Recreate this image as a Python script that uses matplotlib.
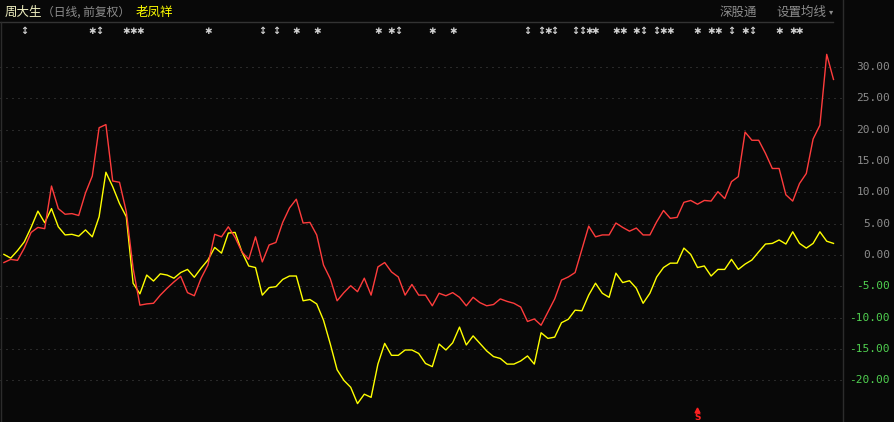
import matplotlib
matplotlib.use('Agg')
import matplotlib.pyplot as plt
from matplotlib.transforms import blended_transform_factory
from matplotlib.lines import Line2D

plt.rcParams['font.family'] = ['Noto Sans CJK SC', 'DejaVu Sans']

W, H = 895, 422
BG = '#080808'

# 区间涨幅 (%), 日线 前复权
zhoudasheng = [-1.2, -0.7, -0.85, 1.1, 3.6, 4.4, 4.2, 11.0, 7.4, 6.5,
               6.6, 6.3, 9.9, 12.6, 20.3, 20.8, 11.8, 11.6, 6.9, -2.1,
               -8.0, -7.8, -7.7, -6.4, -5.3, -4.3, -3.4, -6.0, -6.5, -3.7,
               -1.6, 3.3, 2.9, 4.5, 2.8, 0.5, -0.7, 2.9, -1.1, 1.6,
               2.0, 5.2, 7.5, 8.9, 5.1, 5.2, 3.2, -1.6, -3.8, -7.3,
               -6.0, -4.9, -5.85, -3.7, -6.4, -1.9, -1.2, -2.7, -3.5, -6.4,
               -4.7, -6.4, -6.4, -8.1, -6.1, -6.5, -6.0, -6.75, -8.1, -6.75,
               -7.6, -8.1, -7.9, -7.0, -7.4, -7.7, -8.3, -10.6, -10.2, -11.2,
               -9.1, -7.0, -4.0, -3.5, -2.8, 0.9, 4.6, 2.9, 3.2, 3.2,
               5.1, 4.4, 3.8, 4.3, 3.2, 3.2, 5.3, 7.1, 5.85, 6.0,
               8.4, 8.7, 8.1, 8.7, 8.6, 10.1, 9.0, 11.7, 12.5, 19.6,
               18.3, 18.3, 16.2, 13.8, 13.8, 9.6, 8.6, 11.4, 13.0, 18.5,
               20.7, 32.0, 28.0]
laofengxiang = [0.1, -0.5, 0.7, 2.1, 4.4, 7.0, 5.15, 7.4, 4.5, 3.2,
                3.3, 3.0, 4.0, 2.9, 6.1, 13.2, 10.9, 8.2, 6.1, -4.5,
                -6.2, -3.2, -4.15, -3.0, -3.2, -3.7, -2.8, -2.3, -3.55, -2.1,
                -0.8, 1.2, 0.3, 3.5, 3.6, 0.5, -1.75, -2.0, -6.4, -5.2,
                -5.05, -3.9, -3.35, -3.35, -7.3, -7.1, -7.8, -10.4, -14.2, -18.3,
                -20.0, -21.1, -23.7, -22.2, -22.7, -17.4, -14.1, -16.0, -16.0, -15.15,
                -15.15, -15.7, -17.3, -17.8, -14.2, -15.15, -14.0, -11.5, -14.35, -12.9,
                -14.1, -15.3, -16.2, -16.5, -17.4, -17.4, -16.9, -16.1, -17.4, -12.4,
                -13.3, -13.1, -10.8, -10.25, -8.8, -8.9, -6.4, -4.5, -6.1, -6.75,
                -2.9, -4.4, -4.1, -5.3, -7.7, -6.1, -3.5, -2.0, -1.3, -1.3,
                1.1, 0.1, -2.0, -1.75, -3.35, -2.3, -2.3, -0.7, -2.3, -1.45,
                -0.8, 0.5, 1.75, 1.85, 2.4, 1.75, 3.7, 1.85, 1.1, 1.85,
                3.7, 2.2, 1.85]
yticks = [30, 25, 20, 15, 10, 5, 0, -5, -10, -15, -20]
# 信息地雷标记所在的交易日序号
star_days = [13, 18, 19, 20, 30, 43, 46, 55, 57, 63, 66, 80, 86, 87, 90, 91,
             93, 97, 98, 102, 104, 105, 109, 114, 116, 117]
arrow_days = [3, 14, 38, 40, 58, 77, 79, 81, 84, 85, 94, 96, 107, 110]
s_day = 102

fig = plt.figure(figsize=(W / 100, H / 100), dpi=100, facecolor=BG)
ax = fig.add_axes([0, 0, 843 / W, 1])
ax.set_facecolor(BG)
x = list(range(len(zhoudasheng)))

# pixel -> value mapping from the screenshot
ax.set_ylim((255 - H) / 6.27, 255 / 6.27)
ax.set_xlim(-3.9 / 6.8, (843 - 3.9) / 6.8)
for s in ax.spines.values():
    s.set_visible(False)
ax.set_xticks([])
ax.set_yticks([])

for v in yticks:
    ax.axhline(v, color='#4a4a4a', lw=0.72, ls=(0, (1, 5)), zorder=1)

ax.plot(x, zhoudasheng, color='#ff3c3c', lw=1.0, zorder=3)
ax.plot(x, laofengxiang, color='#ffff00', lw=1.0, zorder=2)

# right axis labels
tr = blended_transform_factory(fig.transFigure, ax.transData)
for v in yticks:
    col = '#50d050' if v < 0 else '#8c8c8c'
    ax.text(890 / W, v, '%.2f' % v, transform=tr, ha='right', va='center',
            color=col, fontsize=8, family='DejaVu Sans Mono')

# markers row
tm = blended_transform_factory(ax.transData, fig.transFigure)
for d in star_days:
    ax.text(d, 1 - 31 / H, '✱', transform=tm, ha='center', va='center',
            color='#d0d0d0', fontsize=6.5, family='DejaVu Sans', clip_on=False)
for d in arrow_days:
    ax.text(d, 1 - 31 / H, '↕', transform=tm, ha='center', va='center',
            color='#d0d0d0', fontsize=7, fontweight='bold',
            family='DejaVu Sans', clip_on=False)
ax.plot([s_day], [1 - 410 / H], marker='^', ms=3.5, color='#ff2020',
        transform=tm, clip_on=False)
ax.text(s_day, 1 - 417.5 / H, 'S', transform=tm, ha='center', va='center',
        color='#ff2020', fontsize=6.5, fontweight='bold', family='DejaVu Sans')

# frame lines
fig.add_artist(Line2D([0, 833 / W], [1 - 22 / H] * 2, color='#333333', lw=1))
fig.add_artist(Line2D([843.5 / W] * 2, [0, 1], color='#2c2c2c', lw=1))
fig.add_artist(Line2D([0.6 / W] * 2, [0, 1 - 22 / H], color='#2c2c2c', lw=1))

# header
hy = 1 - 12 / H
fig.text(5 / W, hy, '周大生', color='#f0f0c0', fontsize=9, va='center')
fig.text(42 / W, hy, '（日线, 前复权）', color='#8c8c8c', fontsize=8.5, va='center')
fig.text(136 / W, hy, '老凤祥', color='#ffff00', fontsize=9, va='center')
fig.text(720 / W, hy, '深股通', color='#8c8c8c', fontsize=9, va='center')
fig.text(776 / W, hy, '设置均线', color='#8c8c8c', fontsize=9, va='center')
fig.text(831 / W, hy, '▾', color='#8c8c8c', fontsize=6, va='center', ha='center',
         family='DejaVu Sans')

fig.savefig('out.png', dpi=100, facecolor=BG)
